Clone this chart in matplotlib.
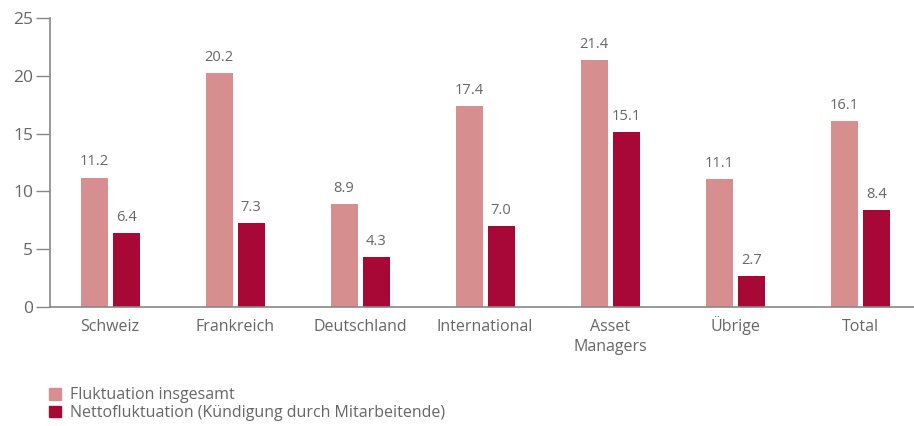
import matplotlib.pyplot as plt
import numpy as np
from matplotlib.patches import Patch

categories = ['Schweiz', 'Frankreich', 'Deutschland', 'International', 'Asset\nManagers', 'Übrige', 'Total']
fluktuation = [11.2, 20.2, 8.9, 17.4, 21.4, 11.1, 16.1]
netto = [6.4, 7.3, 4.3, 7.0, 15.1, 2.7, 8.4]
series_names = ['Fluktuation insgesamt', 'Nettofluktuation (Kündigung durch Mitarbeitende)']

pink = '#d68e8e'
red = '#a80835'
grey = '#666666'

plt.rcParams['font.family'] = ['Open Sans', 'DejaVu Sans']

fig = plt.figure(figsize=(9.14, 4.26), dpi=100)
ax = fig.add_axes([50 / 914, 1 - 307 / 426, 864 / 914, 289 / 426])

x = np.arange(len(categories))
w = 0.216
b1 = ax.bar(x - 0.128, fluktuation, w, color=pink)
b2 = ax.bar(x + 0.128, netto, w, color=red)

for bars, vals in [(b1, fluktuation), (b2, netto)]:
    for bar, v in zip(bars, vals):
        ax.text(bar.get_x() + bar.get_width() / 2, v + 0.7, f'{v:.1f}',
                ha='center', va='bottom', fontsize=10.5, color=grey)

ax.set_xlim(-0.48, 6.43)
ax.set_ylim(0, 25)
ax.set_yticks([0, 5, 10, 15, 20, 25])
ax.set_yticklabels(['0', '5', '10', '15', '20', '25'])
ax.set_xticks(x)
ax.set_xticklabels([])
# category labels, each line on its own baseline (20 px apart)
for xi, name in zip(x, categories):
    for k, line in enumerate(name.split('\n')):
        ax.text(xi, -0.083 - k * 20 / 289, line, transform=ax.get_xaxis_transform(),
                ha='center', va='baseline', fontsize=11.5, color=grey)
ax.tick_params(axis='y', length=10, width=1, color='#888888', labelsize=12.5, labelcolor=grey, pad=2)
ax.tick_params(axis='x', length=0)
for s in ['top', 'right']:
    ax.spines[s].set_visible(False)
for s in ['left', 'bottom']:
    ax.spines[s].set_color('#888888')
    ax.spines[s].set_linewidth(1.2)

handles = [Patch(color=pink), Patch(color=red)]
fig.legend(handles, series_names, loc='upper left', bbox_to_anchor=(43 / 914, 1 - 381 / 426),
           frameon=False, fontsize=11.5, labelcolor=grey, handlelength=0.75, handleheight=0.75,
           handletextpad=0.55, labelspacing=0.1, borderaxespad=0)

fig.savefig('out.png', dpi=100)
